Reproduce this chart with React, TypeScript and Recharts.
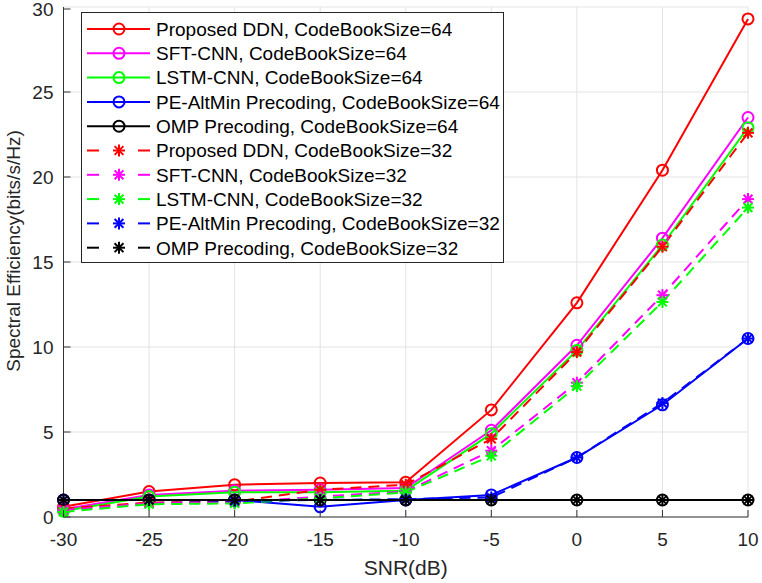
import React from "react";
import {
  LineChart,
  Line,
  XAxis,
  YAxis,
  CartesianGrid,
  Legend,
} from "recharts";

// SNR sweep (dB)
const snrValues = [-30, -25, -20, -15, -10, -5, 0, 5, 10];
const xTicks = [-30, -25, -20, -15, -10, -5, 0, 5, 10];
const yTicks = [0, 5, 10, 15, 20, 25, 30];

// Spectral efficiency (bits/s/Hz), codebook size 64
const ddn64 = [0.6, 1.5, 1.9, 2.0, 2.05, 6.3, 12.6, 20.4, 29.3];
const sft64 = [0.45, 1.3, 1.55, 1.6, 1.7, 5.1, 10.1, 16.4, 23.5];
const lstm64 = [0.35, 1.2, 1.45, 1.45, 1.55, 4.9, 9.8, 16.0, 22.9];
const pe64 = [1.0, 1.0, 1.0, 0.6, 1.0, 1.3, 3.5, 6.6, 10.5];
const omp64 = [1, 1, 1, 1, 1, 1, 1, 1, 1];

// Spectral efficiency (bits/s/Hz), codebook size 32
const ddn32 = [0.5, 0.85, 0.9, 1.6, 1.9, 4.6, 9.7, 15.9, 22.6];
const sft32 = [0.4, 0.8, 0.85, 1.2, 1.5, 3.9, 7.9, 13.05, 18.7];
const lstm32 = [0.3, 0.75, 0.8, 1.1, 1.45, 3.6, 7.7, 12.65, 18.2];
const pe32 = [1.0, 1.0, 0.95, 1.0, 1.05, 1.15, 3.5, 6.7, 10.5];
const omp32 = [1, 1, 1, 1, 1, 1, 1, 1, 1];

type Series = {
  key: string;
  name: string;
  color: string;
  dashed: boolean;
  values: number[];
};

const series: Series[] = [
  { key: "ddn64", name: "Proposed DDN, CodeBookSize=64", color: "#ff0000", dashed: false, values: ddn64 },
  { key: "sft64", name: "SFT-CNN, CodeBookSize=64", color: "#ff00ff", dashed: false, values: sft64 },
  { key: "lstm64", name: "LSTM-CNN, CodeBookSize=64", color: "#00ff00", dashed: false, values: lstm64 },
  { key: "pe64", name: "PE-AltMin Precoding, CodeBookSize=64", color: "#0000ff", dashed: false, values: pe64 },
  { key: "omp64", name: "OMP Precoding, CodeBookSize=64", color: "#000000", dashed: false, values: omp64 },
  { key: "ddn32", name: "Proposed DDN, CodeBookSize=32", color: "#ff0000", dashed: true, values: ddn32 },
  { key: "sft32", name: "SFT-CNN, CodeBookSize=32", color: "#ff00ff", dashed: true, values: sft32 },
  { key: "lstm32", name: "LSTM-CNN, CodeBookSize=32", color: "#00ff00", dashed: true, values: lstm32 },
  { key: "pe32", name: "PE-AltMin Precoding, CodeBookSize=32", color: "#0000ff", dashed: true, values: pe32 },
  { key: "omp32", name: "OMP Precoding, CodeBookSize=32", color: "#000000", dashed: true, values: omp32 },
];

const data = snrValues.map((snr, i) => {
  const row: Record<string, number> = { snr };
  series.forEach((s) => {
    row[s.key] = s.values[i];
  });
  return row;
});

const FONT = "'Liberation Sans', Arial, Helvetica, sans-serif";
const AXIS = "#333333";
const TEXT = "#262626";
const GRID = "#e3e3e3";
const DASH = "11 7";
const TICK_LEN = 7;

function Marker({ x, y, color, star }: { x: number; y: number; color: string; star: boolean }) {
  if (!star) {
    return <circle cx={x} cy={y} r={5.5} fill="none" stroke={color} strokeWidth={2} />;
  }
  const r = 6;
  const d = 4.4;
  return (
    <g stroke={color} strokeWidth={2}>
      <line x1={x - r} y1={y} x2={x + r} y2={y} />
      <line x1={x} y1={y - r} x2={x} y2={y + r} />
      <line x1={x - d} y1={y - d} x2={x + d} y2={y + d} />
      <line x1={x - d} y1={y + d} x2={x + d} y2={y - d} />
    </g>
  );
}

const makeDot = (s: Series) => (props: any) => {
  const { cx, cy, index } = props;
  if (cx == null || cy == null) return <g key={`${s.key}-${index}`} />;
  return (
    <g key={`${s.key}-${index}`}>
      <Marker x={cx} y={cy} color={s.color} star={s.dashed} />
    </g>
  );
};

const BottomTick = (props: any) => {
  const { x, y, payload } = props;
  return (
    <g>
      <line x1={x} y1={y} x2={x} y2={y - TICK_LEN} stroke={AXIS} strokeWidth={1} />
      <text x={x} y={y + 29} textAnchor="middle" fontSize={19} fill={TEXT} fontFamily={FONT}>
        {payload.value}
      </text>
    </g>
  );
};

const LeftTick = (props: any) => {
  const { x, y, payload } = props;
  return (
    <g>
      <line x1={x} y1={y} x2={x + TICK_LEN} y2={y} stroke={AXIS} strokeWidth={1} />
      <text x={x - 10} y={y} dy="0.35em" textAnchor="end" fontSize={19} fill={TEXT} fontFamily={FONT}>
        {payload.value}
      </text>
    </g>
  );
};

const TopTick = (props: any) => {
  const { x, y } = props;
  return <line x1={x} y1={y} x2={x} y2={y + TICK_LEN} stroke={AXIS} strokeWidth={1} />;
};

const RightTick = (props: any) => {
  const { x, y } = props;
  return <line x1={x} y1={y} x2={x - TICK_LEN} y2={y} stroke={AXIS} strokeWidth={1} />;
};

const LEGEND_W = 423;
const LEGEND_H = 251;
const ROW_START = 17;
const ROW_STEP = 24.3;

const LegendBox = () => (
  <svg width={LEGEND_W} height={LEGEND_H} style={{ display: "block" }}>
    <rect x={0.5} y={0.5} width={LEGEND_W - 1} height={LEGEND_H - 1} fill="#ffffff" stroke="#262626" strokeWidth={1} />
    {series.map((s, i) => {
      const cy = ROW_START + i * ROW_STEP;
      return (
        <g key={s.key}>
          {s.dashed ? (
            <g stroke={s.color} strokeWidth={2}>
              <line x1={6} y1={cy} x2={18} y2={cy} />
              <line x1={57} y1={cy} x2={69} y2={cy} />
            </g>
          ) : (
            <line x1={6} y1={cy} x2={69} y2={cy} stroke={s.color} strokeWidth={2} />
          )}
          <Marker x={38} y={cy} color={s.color} star={s.dashed} />
          <text x={75} y={cy} dy="0.36em" fontSize={19} fill="#000" fontFamily={FONT}>
            {s.name}
          </text>
        </g>
      );
    })}
  </svg>
);

export default function App() {
  return (
    <div style={{ position: "absolute", left: 0, top: 0, width: 762, height: 583, background: "#fff" }}>
      <LineChart
        width={762}
        height={583}
        data={data}
        margin={{ top: 7, right: 14, bottom: 0, left: 0 }}
        style={{ fontFamily: FONT }}
      >
        <CartesianGrid stroke={GRID} strokeWidth={1} />
        <XAxis
          dataKey="snr"
          type="number"
          domain={[-30, 10]}
          ticks={xTicks}
          height={66}
          tickSize={0}
          tickMargin={0}
          tick={<BottomTick />}
          axisLine={{ stroke: AXIS, strokeWidth: 1 }}
          tickLine={false}
          label={{ value: "SNR(dB)", position: "insideBottom", offset: 8, fontSize: 21, fill: TEXT, fontFamily: FONT }}
        />
        <XAxis
          xAxisId="top"
          dataKey="snr"
          type="number"
          orientation="top"
          domain={[-30, 10]}
          ticks={xTicks}
          height={0}
          tickSize={0}
          tickMargin={0}
          tick={<TopTick />}
          axisLine={{ stroke: AXIS, strokeWidth: 1 }}
          tickLine={false}
        />
        <YAxis
          type="number"
          domain={[0, 30]}
          ticks={yTicks}
          width={63.5}
          tickSize={0}
          tickMargin={0}
          tick={<LeftTick />}
          axisLine={{ stroke: AXIS, strokeWidth: 1 }}
          tickLine={false}
          label={{
            value: "Spectral Efficiency(bits/s/Hz)",
            angle: -90,
            position: "insideLeft",
            offset: 0,
            dx: 13,
            dy: -11,
            fontSize: 19,
            fill: TEXT,
            fontFamily: FONT,
            style: { textAnchor: "middle" },
          }}
        />
        <YAxis
          yAxisId="right"
          type="number"
          orientation="right"
          domain={[0, 30]}
          ticks={yTicks}
          width={0}
          tickSize={0}
          tickMargin={0}
          tick={<RightTick />}
          axisLine={{ stroke: AXIS, strokeWidth: 1 }}
          tickLine={false}
        />
        <Legend
          layout="vertical"
          align="center"
          verticalAlign="middle"
          content={<LegendBox />}
          wrapperStyle={{ left: 81, top: 12, width: LEGEND_W, height: LEGEND_H }}
        />
        {series.map((s) => (
          <Line
            key={s.key}
            dataKey={s.key}
            name={s.name}
            type="linear"
            stroke={s.color}
            strokeWidth={2}
            strokeDasharray={s.dashed ? DASH : undefined}
            dot={makeDot(s)}
            activeDot={false}
            isAnimationActive={false}
          />
        ))}
      </LineChart>
    </div>
  );
}
